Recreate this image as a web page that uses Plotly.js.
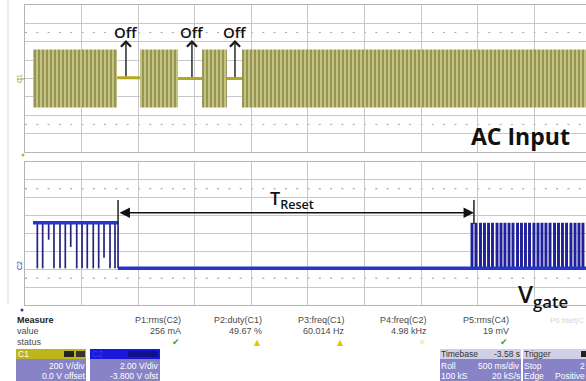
<!DOCTYPE html>
<html><head><meta charset="utf-8">
<script src="https://cdn.plot.ly/plotly-3.0.1.min.js"></script>
<style>html,body{margin:0;padding:0;background:#fff;overflow:hidden}#chart{width:586px;height:381px}</style>
</head><body><div id="chart"></div>
<script>
// ---- data (time in s from left screen edge, 500 ms/div) ----
const acOnStart  = [0.071, 1.016, 1.564, 1.917];
const acOnEnd    = [0.813, 1.352, 1.784, 5.000];
const acPeakV    = 315;
const acOffStart = [0.813, 1.352, 1.784];
const acOffEnd   = [1.016, 1.564, 1.917];
const acOffLevel = [8, 0, 0];
const offMarkT   = [0.892, 1.475, 1.855];
const offLabels  = ['Off', 'Off', 'Off'];

const gateHigh = 5.0, gateLow = -0.1;
const burst1Start = 0.071, burst1End = 0.822;
const burst1Dips  = [0.109, 0.156, 0.209, 0.256, 0.309, 0.356, 0.404, 0.457, 0.504, 0.550, 0.603, 0.651, 0.698, 0.751, 0.795];
const burst1Depth = [-0.1, -0.1, 3.1, -0.1, -0.1, -0.1, 2.3, -0.1, -0.1, -0.1, -0.1, -0.1, 1.1, -0.1, -0.1];
const burst2Pulses = [3.949, 3.984, 4.024, 4.059, 4.095, 4.130, 4.170, 4.205, 4.240, 4.276, 4.311, 4.351, 4.386, 4.421, 4.457, 4.496, 4.532, 4.567, 4.602, 4.638, 4.678, 4.713, 4.748, 4.784, 4.823, 4.859, 4.894, 4.929];
const tResetFrom = 0.822, tResetTo = 3.966;

const measLabels = ['P1:rms(C2)', 'P2:duty(C1)', 'P3:freq(C1)', 'P4:freq(C2)', 'P5:rms(C4)'];
const measValues = ['256 mA', '49.67 %', '60.014 Hz', '4.98 kHz', '19 mV'];
const measStatus = ['ok', 'warn', 'warn', 'na', 'ok'];

// ---- geometry helpers ----
const L = 25, T = 5, PW = 561, PH = 300, XMAX = 4.956;
const px = x => (x - L) / PW;
const py = y => (T + PH - y) / PH;

const traces = [];
// AC band
traces.push({
  type: 'bar', xaxis: 'x', yaxis: 'y',
  x: acOnStart.map((s, i) => (s + acOnEnd[i]) / 2),
  width: acOnStart.map((s, i) => acOnEnd[i] - s),
  base: acOnStart.map(() => -acPeakV),
  y: acOnStart.map(() => 2 * acPeakV),
  marker: {color: '#c0bf7c', line: {width: 0},
    pattern: {shape: '|', fgcolor: '#6a6824', bgcolor: '#c4c382', size: 4, solidity: 0.5, fillmode: 'overlay'}},
  hoverinfo: 'skip'
});
// AC off segments
{
  const x = [], y = [];
  acOffStart.forEach((s, i) => { x.push(s, acOffEnd[i], null); y.push(acOffLevel[i], acOffLevel[i], null); });
  traces.push({type: 'scatter', mode: 'lines', xaxis: 'x', yaxis: 'y', x, y,
    line: {color: '#b3a91e', width: 3}, hoverinfo: 'skip'});
}
// Gate: low level
traces.push({type: 'scatter', mode: 'lines', xaxis: 'x2', yaxis: 'y2',
  x: [burst1End, XMAX], y: [gateLow, gateLow], line: {color: '#2636cc', width: 3.5}, hoverinfo: 'skip'});
// Gate: burst 2 pulses
traces.push({type: 'bar', xaxis: 'x2', yaxis: 'y2',
  x: burst2Pulses, width: burst2Pulses.map(() => 0.026),
  base: burst2Pulses.map(() => gateLow), y: burst2Pulses.map(() => gateHigh - gateLow),
  marker: {color: '#20209a', line: {width: 0}}, hoverinfo: 'skip'});
// Gate: burst 1 dips
{
  const x = [], y = [];
  burst1Dips.forEach((t, i) => { x.push(t, t, null); y.push(gateHigh, burst1Depth[i], null); });
  x.push(burst1End, burst1End); y.push(gateHigh, gateLow);
  traces.push({type: 'scatter', mode: 'lines', xaxis: 'x2', yaxis: 'y2', x, y,
    line: {color: '#24247e', width: 1.7}, hoverinfo: 'skip'});
}
// Gate: burst 1 high level
traces.push({type: 'scatter', mode: 'lines', xaxis: 'x2', yaxis: 'y2',
  x: [burst1Start, burst1End], y: [gateHigh, gateHigh], line: {color: '#2636cc', width: 3.5}, hoverinfo: 'skip'});

const ax = (over) => Object.assign({
  showgrid: true, gridcolor: '#c8c8c8', gridwidth: 1, zeroline: false,
  showline: true, mirror: true, linecolor: '#b4b4b4', linewidth: 1,
  showticklabels: false, ticks: '', fixedrange: true
}, over);

const shapes = [];
const annotations = [];
const dotted = {color: '#a8a8a8', width: 1, dash: '2px,9.3px'};
[-500, 500].forEach(v =>
  shapes.push({type: 'line', xref: 'x', yref: 'y', x0: 0, x1: XMAX, y0: v, y1: v, line: dotted, layer: 'below'}));
[8.8, -1.2, 3.8].forEach(v =>
  shapes.push({type: 'line', xref: 'x2', yref: 'y2', x0: 0, x1: XMAX, y0: v, y1: v, line: {color: '#909090', width: 1, dash: '2px,9.3px'}, layer: 'below'}));
// left frame line
shapes.push({type: 'line', xref: 'paper', yref: 'paper', x0: px(8), x1: px(8), y0: py(0), y1: py(305), line: {color: '#dcdcdc', width: 1}});
// channel markers
shapes.push({type: 'line', xref: 'paper', yref: 'paper', x0: px(17), x1: px(25), y0: py(79), y1: py(79), line: {color: '#a8a040', width: 1}});
shapes.push({type: 'circle', xref: 'paper', yref: 'paper', x0: px(21.5), x1: px(24.5), y0: py(153.5), y1: py(156.5), fillcolor: '#b8b030', line: {width: 0}});
shapes.push({type: 'circle', xref: 'paper', yref: 'paper', x0: px(20.5), x1: px(23.5), y0: py(308.5), y1: py(311.5), fillcolor: '#3030c0', line: {width: 0}});
annotations.push({xref: 'paper', yref: 'paper', x: px(19), y: py(79), xanchor: 'center', yanchor: 'middle', text: 'C1', textangle: -90, showarrow: false, font: {size: 7, color: '#a8a040'}});
annotations.push({xref: 'paper', yref: 'paper', x: px(19), y: py(266), xanchor: 'center', yanchor: 'middle', text: 'C2', textangle: -90, showarrow: false, font: {size: 7, color: '#3030c0'}});

// Off arrows and labels
offMarkT.forEach((t, i) => {
  annotations.push({xref: 'x', yref: 'y', axref: 'x', ayref: 'y', x: t, y: 418, ax: t, ay: acOffLevel[i],
    text: '', showarrow: true, arrowhead: 4, arrowsize: 1.4, arrowwidth: 1.4, arrowcolor: '#1a1a1a', standoff: 0, startstandoff: 0});
  annotations.push({xref: 'x', yref: 'y', x: t, y: 505, xanchor: 'center', yanchor: 'middle', text: offLabels[i], showarrow: false,
    font: {family: 'Open Sans', size: 15, color: '#111', weight: 600}});
});
annotations.push({xref: 'paper', yref: 'paper', x: px(469), y: py(136), xanchor: 'left', yanchor: 'middle', text: 'AC Input', showarrow: false,
  font: {family: 'Open Sans', size: 23, color: '#111', weight: 700}});

// T reset
annotations.push({xref: 'x2', yref: 'y2', axref: 'x2', ayref: 'y2', x: tResetTo, y: 6.12, ax: tResetFrom, ay: 6.12,
  text: '', showarrow: true, arrowside: 'end+start', arrowhead: 2, arrowsize: 1.3, arrowwidth: 1.6, arrowcolor: '#111', standoff: 0, startstandoff: 0});
[tResetFrom, tResetTo].forEach(t => shapes.push({type: 'line', xref: 'x2', yref: 'y2', x0: t, x1: t, y0: 4.86, y1: 7.54, line: {color: '#222', width: 1.5}}));
annotations.push({xref: 'x2', yref: 'y2', x: 2.36, y: 5.85, xanchor: 'center', yanchor: 'bottom', text: 'T<sub>Reset</sub>', showarrow: false,
  font: {family: 'Open Sans', size: 18, color: '#111', weight: 600}});
annotations.push({xref: 'paper', yref: 'paper', x: px(516), y: py(295), xanchor: 'left', yanchor: 'middle', text: 'V<sub>gate</sub>', showarrow: false,
  font: {family: 'Open Sans', size: 24, color: '#111', weight: 600}});

// measurement table
const mfont = {family: 'Liberation Sans', size: 9, color: '#4a4a4a'};
function ptxt(x, y, s, anchor, font) {
  annotations.push({xref: 'paper', yref: 'paper', x: px(x), y: py(y), xanchor: anchor, yanchor: 'middle', text: s, showarrow: false, font});
}
ptxt(15, 320, '<b>Measure</b>', 'left', Object.assign({}, mfont, {color: '#222'}));
ptxt(15, 331, 'value', 'left', mfont);
ptxt(15, 342, 'status', 'left', mfont);
const colRight = [183, 264, 347, 429, 511];
const statusSym = {ok: ['✔', '#2ea02e', 9], warn: ['▲', '#e3c400', 8], na: ['✕', '#e8e8a0', 8]};
measLabels.forEach((lab, i) => {
  ptxt(colRight[i], 320, lab, 'right', mfont);
  ptxt(colRight[i], 331, measValues[i], 'right', mfont);
  const s = statusSym[measStatus[i]];
  ptxt(colRight[i] - 7, 342, s[0], 'center', {family: 'DejaVu Sans', size: s[2], color: s[1]});
});
ptxt(586, 321, 'P6:fdef(C', 'right', Object.assign({}, mfont, {size: 8, color: '#d6d6d6'}));

// descriptor boxes
function rect(x0, x1, y0, y1, color) {
  shapes.push({type: 'rect', xref: 'paper', yref: 'paper', x0: px(x0), x1: px(x1), y0: py(y1), y1: py(y0), fillcolor: color, line: {width: 0}});
}
function box(x0, x1, headColor, bodyColor) {
  rect(x0, x1, 349, 359, headColor);
  rect(x0, x1, 359, 381, bodyColor);
}
function txt(x, y, s, anchor, color) {
  ptxt(x, y, s, anchor, {family: 'Liberation Sans', size: 8.5, color: color});
}
box(16, 86, '#bdb51a', '#8783c6');
rect(64, 74, 351, 357, '#222');
rect(76, 85, 351, 357, '#333');
txt(16, 354, 'C1', 'left', '#ffffff');
txt(87, 366, '200 V/div', 'right', '#ffffff');
txt(87, 376, '0.0 V offset', 'right', '#ffffff');
box(90, 160, '#1818d8', '#8783c6');
rect(128, 158, 351, 357, '#10108a');
txt(90, 354, 'C2', 'left', '#3a3aee');
txt(161, 366, '2.00 V/div', 'right', '#ffffff');
txt(161, 376, '-3.800 V ofst', 'right', '#ffffff');
box(440, 521, '#cfcfe6', '#8783c6');
txt(439, 354, 'Timebase', 'left', '#333');
txt(522, 354, '-3.58 s', 'right', '#333');
txt(439, 366, 'Roll', 'left', '#ffffff');
txt(522, 366, '500 ms/div', 'right', '#ffffff');
txt(439, 376, '100 kS', 'left', '#ffffff');
txt(522, 376, '20 kS/s', 'right', '#ffffff');
box(523, 600, '#cfcfe6', '#8783c6');
rect(581, 586, 351, 357, '#222');
txt(522, 354, 'Trigger', 'left', '#333');
txt(522, 366, 'Stop', 'left', '#ffffff');
txt(587, 366, '2', 'right', '#ffffff');
txt(522, 376, 'Edge', 'left', '#ffffff');
txt(587, 376, 'Positive', 'right', '#ffffff');

const layout = {
  width: 586, height: 381, margin: {l: L, r: 0, t: T, b: 381 - T - PH, pad: 0},
  paper_bgcolor: '#ffffff', plot_bgcolor: '#ffffff', showlegend: false, barmode: 'overlay',
  font: {family: 'Liberation Sans', size: 9, color: '#333'},
  xaxis: ax({domain: [0, 1], range: [0, XMAX], dtick: 0.5, tick0: 0, anchor: 'y'}),
  yaxis: ax({domain: [0.51, 1], range: [-800, 800], dtick: 200, tick0: 0, anchor: 'x'}),
  xaxis2: ax({domain: [0, 1], range: [0, XMAX], dtick: 0.5, tick0: 0, anchor: 'y2'}),
  yaxis2: ax({domain: [0, 0.4767], range: [-4.2, 11.8], dtick: 2, tick0: -4.2, anchor: 'x2'}),
  shapes, annotations
};
Plotly.newPlot('chart', traces, layout, {staticPlot: true, displayModeBar: false});
</script></body></html>
